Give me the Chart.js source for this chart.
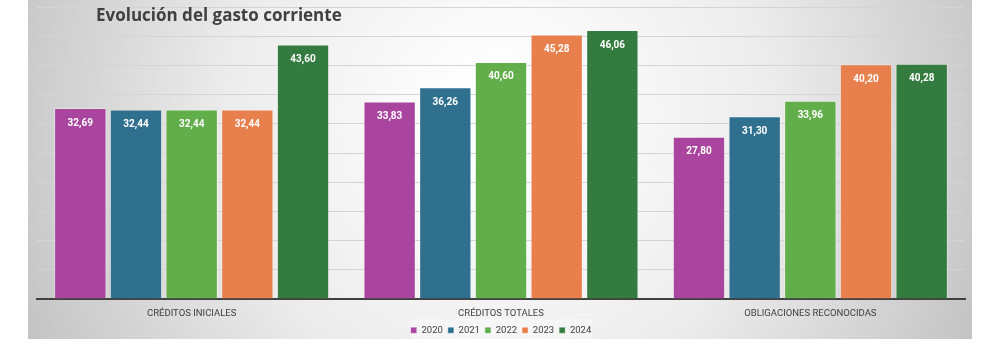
<!DOCTYPE html>
<html>
<head>
<meta charset="utf-8">
<script src="https://cdn.jsdelivr.net/npm/chart.js@4/dist/chart.umd.min.js"></script>
<style>
  html, body { margin: 0; padding: 0; background: #fff; }
  #wrap { width: 1000px; height: 360px; }
</style>
</head>
<body>
<div id="wrap"><canvas id="chart" width="1000" height="360"></canvas></div>
<script>
const categorias = ['CRÉDITOS INICIALES', 'CRÉDITOS TOTALES', 'OBLIGACIONES RECONOCIDAS'];
const anios = ['2020', '2021', '2022', '2023', '2024'];
const v2020 = [32.69, 33.83, 27.80];
const v2021 = [32.44, 36.26, 31.30];
const v2022 = [32.44, 40.60, 33.96];
const v2023 = [32.44, 45.28, 40.20];
const v2024 = [43.60, 46.06, 40.28];
const colores = ['#a9449f', '#30708f', '#62ae4a', '#e8804d', '#337b3e'];

const series = [v2020, v2021, v2022, v2023, v2024];

// fondo con degradado gris y título
const fondo = {
  id: 'fondo',
  beforeDraw(chart) {
    const ctx = chart.ctx;
    ctx.save();
    const g = ctx.createRadialGradient(500, 120, 40, 500, 120, 560);
    g.addColorStop(0, '#ffffff');
    g.addColorStop(0.45, '#ececec');
    g.addColorStop(1, '#bdbdbd');
    ctx.fillStyle = g;
    ctx.fillRect(28, 0, 944, 339);
    // caja clara de la leyenda
    ctx.fillStyle = 'rgba(255,255,255,0.35)';
    ctx.fillRect(410, 319, 182, 20);
    ctx.restore();
  },
  afterDraw(chart) {
    const ctx = chart.ctx;
    ctx.save();
    ctx.fillStyle = '#404040';
    ctx.font = 'bold 17px "Open Sans", "Noto Sans", sans-serif';
    ctx.textBaseline = 'middle';
    ctx.fillText('Evolución del gasto corriente', 96, 16);
    ctx.restore();
  }
};

// etiquetas de valor dentro de las barras
const etiquetas = {
  id: 'etiquetas',
  afterDatasetsDraw(chart) {
    const ctx = chart.ctx;
    ctx.save();
    ctx.fillStyle = '#ffffff';
    ctx.font = 'bold 10px "Liberation Sans Narrow", "Roboto", sans-serif';
    ctx.textAlign = 'center';
    ctx.textBaseline = 'middle';
    chart.data.datasets.forEach((ds, i) => {
      chart.getDatasetMeta(i).data.forEach((bar, j) => {
        ctx.fillText(ds.data[j].toFixed(2).replace('.', ','), bar.x, bar.y + 15);
      });
    });
    ctx.restore();
  }
};

new Chart(document.getElementById('chart'), {
  type: 'bar',
  data: {
    labels: categorias,
    datasets: anios.map((a, i) => ({
      label: a,
      data: series[i],
      backgroundColor: colores[i],
      borderColor: 'rgba(255,255,255,0.35)',
      borderWidth: 1,
      categoryPercentage: 0.9,
      barPercentage: 0.94
    }))
  },
  options: {
    responsive: false,
    animation: false,
    layout: { padding: { left: 37, right: 35, top: 7, bottom: 15 } },
    plugins: {
      legend: {
        position: 'bottom',
        labels: {
          boxWidth: 6,
          boxHeight: 6,
          padding: 5,
          color: '#404040',
          font: { size: 9.5, family: 'Roboto, sans-serif' }
        }
      },
      tooltip: { enabled: false }
    },
    scales: {
      x: {
        grid: { display: false },
        border: { color: '#404040', width: 2 },
        ticks: {
          color: '#404040',
          padding: 2,
          font: { size: 9.5, lineHeight: 1, family: '"Liberation Sans Narrow", Roboto, sans-serif' }
        }
      },
      y: {
        min: 0,
        max: 50,
        ticks: { display: false, stepSize: 5 },
        border: { display: false },
        grid: { color: '#d4d4d4', drawTicks: false }
      }
    }
  },
  plugins: [fondo, etiquetas]
});
</script>
</body>
</html>
